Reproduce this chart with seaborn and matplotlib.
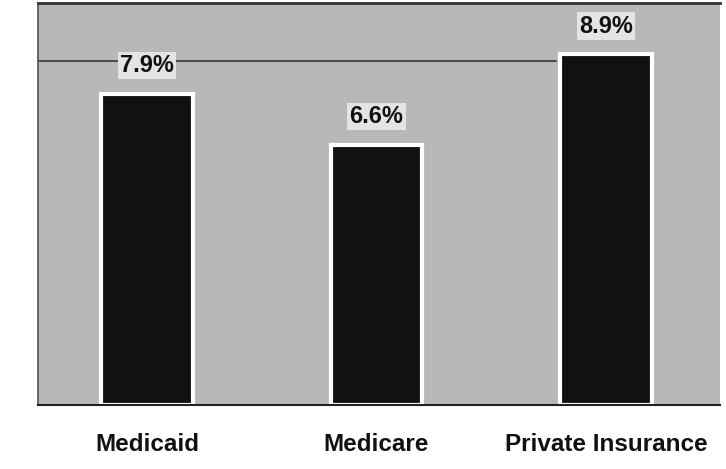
import matplotlib
matplotlib.use("Agg")
import matplotlib.pyplot as plt
import seaborn as sns
import pandas as pd

categories = ["Medicaid", "Medicare", "Private Insurance"]
values = [7.9, 6.6, 8.9]
labels = ["7.9%", "6.6%", "8.9%"]

df = pd.DataFrame({"category": categories, "value": values})

sns.set_theme(style="white")
plt.rcParams["font.family"] = ["Liberation Sans", "DejaVu Sans"]

fig = plt.figure(figsize=(7.26, 4.69), dpi=100)
fig.patch.set_facecolor("white")
ax = fig.add_axes([0.052, 0.136, 0.940, 0.858])
ax.set_facecolor("#b8b8b8")

ax.axhline(8.73, color="#333333", linewidth=1.2, xmax=0.76, zorder=0.5)

sns.barplot(data=df, x="category", y="value", color="#111111", width=0.40,
            edgecolor="white", linewidth=3, saturation=1, ax=ax)

ax.set_xlim(-0.476, 2.498)
ax.set_ylim(0, 10.2)
for i, (v, lab) in enumerate(zip(values, labels)):
    ax.text(i, v + 0.42, lab, ha="center", va="bottom", fontsize=17,
            fontweight="bold", color="#111111",
            bbox=dict(facecolor="#e4e4e4", edgecolor="none", pad=1.5))

ax.set_xlabel("")
ax.set_ylabel("")
ax.set_yticks([])
ax.tick_params(axis="x", length=0, pad=20, labelsize=17.5)
for t in ax.get_xticklabels():
    t.set_fontweight("bold")
    t.set_color("#111111")
ax.spines["right"].set_visible(False)
ax.spines["top"].set_color("#333333")
ax.spines["top"].set_linewidth(2)
ax.spines["left"].set_color("#555555")
ax.spines["bottom"].set_color("#222222")
ax.spines["bottom"].set_linewidth(1.5)

fig.savefig("out.png", dpi=100)
